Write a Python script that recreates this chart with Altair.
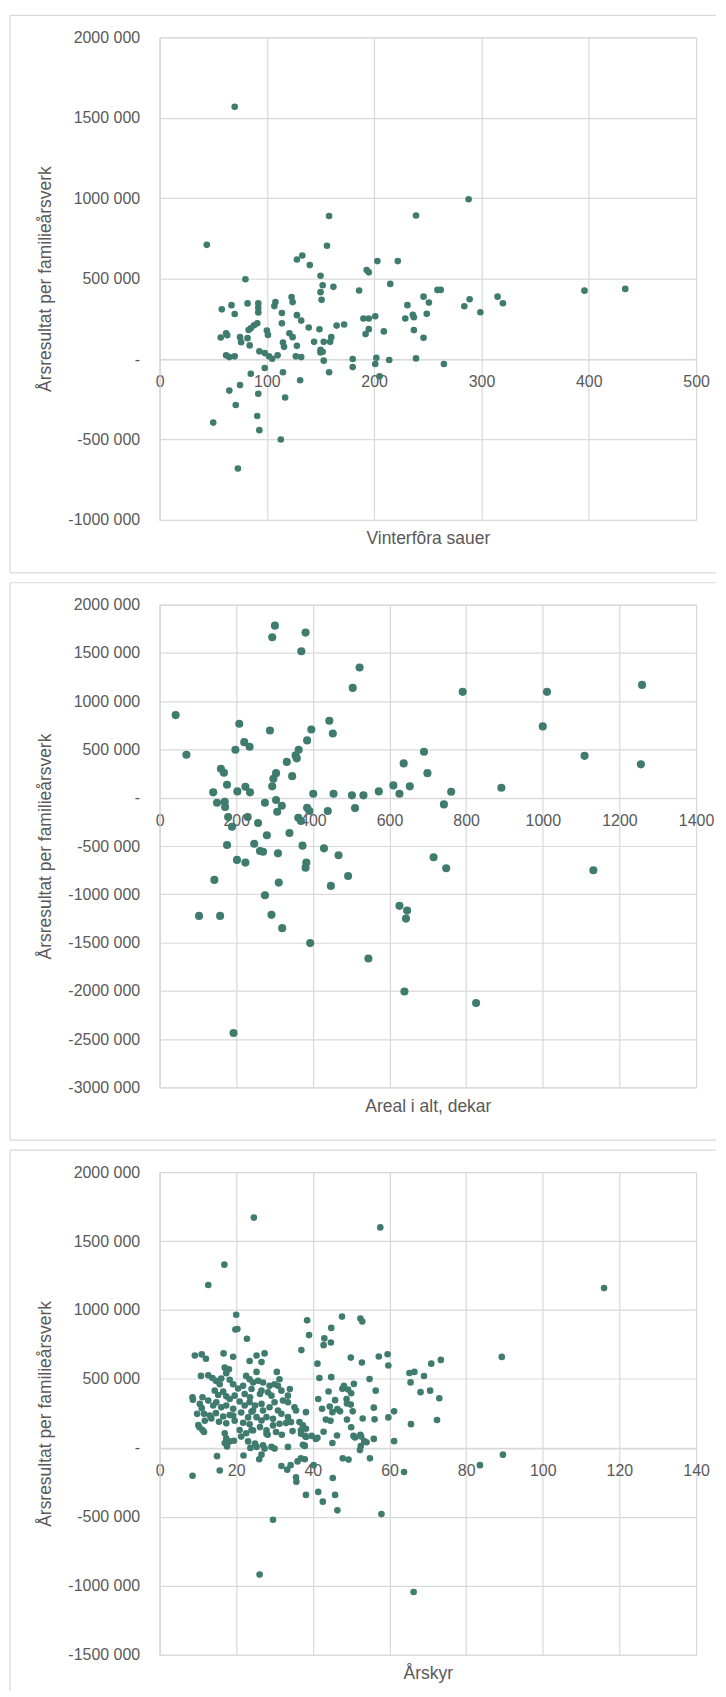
import altair as alt
import pandas as pd

# ---------------- Panel 1: Vinterfôra sauer (x) vs Årsresultat (y, 1000 kr) ----------------
sau_x = [70, 44, 158, 156, 128, 133, 140, 150, 152, 162,
         150, 151, 80, 123, 124, 108, 107, 92, 92, 92,
         82, 67, 58, 70, 114, 128, 132, 114, 165, 91,
         88, 85, 83, 139, 149, 100, 101, 62, 63, 57,
         75, 76, 82, 84, 121, 124, 144, 153, 159, 160,
         115, 116, 128, 150, 152, 150, 153, 62, 65, 70,
         93, 98, 102, 105, 110, 127, 132, 98, 85, 115,
         158, 75, 65, 131, 92, 117, 71, 91, 50, 93,
         113, 73, 172, 186, 193, 195, 215, 190, 195, 201,
         192, 195, 209, 180, 180, 202, 201, 205, 214, 239,
         265, 229, 236, 237, 231, 237, 246, 246, 251, 249,
         259, 262, 284, 289, 299, 315, 320, 396, 434, 239,
         288, 203, 222]
sau_y = [1568, 710, 889, 704, 619, 644, 584, 518, 459, 449,
         416, 368, 496, 385, 354, 354, 329, 346, 319, 290,
         346, 335, 309, 280, 286, 273, 239, 222, 208, 222,
         210, 191, 181, 196, 185, 177, 150, 160, 148, 134,
         136, 105, 130, 85, 160, 136, 107, 107, 107, 136,
         103, 76, 82, 57, 45, 41, -10, 23, 12, 17,
         48, 37, 17, 2, 23, 17, 12, -56, -91, -82,
         -82, -162, -196, -132, -216, -239, -286, -354, -395, -442,
         -500, -680, 215, 426, 553, 539, 467, 252, 252, 266,
         155, 186, 172, 0, -50, 8, -31, -107, -6, 4,
         -31, 252, 275, 260, 335, 180, 132, 388, 351, 281,
         430, 430, 328, 372, 291, 388, 347, 425, 436, 892,
         993, 609, 609]

# ---------------- Panel 2: Areal i alt, dekar ----------------
areal_x = [42, 70, 301, 294, 381, 370, 522, 504, 208, 288,
           396, 443, 452, 221, 235, 198, 385, 363, 355, 358,
           332, 346, 304, 297, 294, 160, 168, 176, 140, 203,
           224, 236, 150, 170, 171, 275, 304, 319, 307, 401,
           454, 502, 532, 572, 610, 626, 653, 637, 690, 699,
           761, 742, 385, 391, 439, 510, 179, 230, 189, 257,
           362, 369, 280, 339, 176, 247, 262, 270, 309, 373,
           429, 467, 202, 224, 383, 381, 715, 748, 143, 311,
           447, 492, 275, 103, 158, 292, 320, 393, 545, 626,
           646, 643, 639, 193, 826, 791, 1011, 1259, 1000, 1109,
           1256, 892, 1132]
areal_y = [856, 445, 1783, 1662, 1711, 1518, 1349, 1138, 766, 697,
           707, 797, 666, 576, 528, 497, 594, 497, 439, 408,
           372, 224, 255, 197, 118, 300, 259, 134, 56, 66,
           114, 56, -52, -41, -96, -52, -24, -83, -145, 41,
           41, 25, 25, 66, 128, 41, 118, 356, 476, 255,
           62, -69, -103, -138, -138, -107, -200, -200, -300, -262,
           -207, -241, -389, -365, -489, -476, -551, -559, -576, -496,
           -524, -596, -644, -672, -672, -724, -617, -730, -851, -879,
           -913, -810, -1010, -1224, -1224, -1213, -1351, -1506, -1666, -1120,
           -1169, -1252, -2007, -2437, -2127, 1097, 1097, 1169, 739, 434,
           346, 103, -751]

# ---------------- Panel 3: Årskyr ----------------
kyr_sparse_x = [24.6, 57.6, 16.9, 12.7, 116, 20, 19.8, 20.3, 22.8, 38.5,
                39, 37, 47.6, 52.4, 52.9, 44.8, 43, 42.8, 44.7, 41.2,
                41.7, 44.8, 49.9, 52.8, 57.2, 59.5, 59.7, 54.8, 56.4, 65.2,
                66.5, 65.5, 69, 70.9, 73.4, 68.1, 70.6, 73, 72.4, 65.6,
                61.2, 61.2, 59.7, 55.9, 56.1, 55.9, 54.9, 89.3, 89.6, 83.6,
                63.8, 66.3, 57.9, 26.1, 29.6, 46.4, 42.6, 41.4, 45.8, 38.2,
                45.2, 47.8, 49.3, 8.6, 15.7, 15, 21.9, 26, 26.6, 31.8,
                33.3, 34.2, 36, 35.6, 35.7, 40.2, 37.9, 36.9, 37.4, 38]
kyr_sparse_y = [1670, 1599, 1329, 1181, 1159, 966, 859, 862, 791, 925,
                818, 709, 952, 938, 917, 870, 794, 745, 764, 611,
                507, 513, 655, 619, 663, 679, 597, 499, 415, 543,
                551, 475, 521, 611, 638, 404, 415, 360, 202, 172,
                265, 49, 221, 292, 207, 65, -76, 660, -49, -125,
                -175, -1045, -480, -919, -521, -453, -390, -319, -341, -341,
                -218, -76, -85, -202, -164, -60, -55, -82, -49, -131,
                -158, -125, -98, -213, -246, -125, -82, -76, 22, 87]

kyr_mid_x = [41.4, 42.4, 44.1, 45.8, 44.4, 45.1, 43.4, 44.6, 47.7, 48.1,
             49.2, 50.7, 50, 48.8, 48.9, 47.1, 46.4, 49.9, 50.4, 48.9,
             50, 50.6, 51, 52.6, 52.4, 53.4, 52.5, 52.3, 54, 53,
             45.1, 46.3, 42.8, 41.2, 40.8, 39.7, 37.9]
kyr_mid_y = [355, 284, 409, 346, 300, 259, 205, 196, 428, 450,
             423, 464, 396, 355, 322, 265, 281, 314, 265, 205,
             150, 87, 76, 82, 95, 49, 14, -16, 41, 213,
             35, 90, 117, 74, 65, 87, 14]

kyr_left_x = [9.2, 11, 12.1, 16.7, 19.2, 23.5, 17, 18.1, 17.4, 10.8,
              12.7, 13.8, 14.7, 16.1, 15.7, 18.3, 19.2, 20.5, 21.8, 22.6,
              23.5, 22.2, 8.6, 8.7, 11.2, 14.4, 15.3, 16.6, 17.4, 18.3,
              19.6, 10.5, 11, 12.7, 14, 14.8, 16.1, 17.4, 19.2, 20.9,
              22.2, 23.5, 9.8, 11.6, 13.1, 14.7, 16.6, 18.3, 19.2, 21.3,
              23.1, 24, 11.8, 13.5, 15.5, 17.4, 19.6, 21.8, 10.1, 11.2,
              11.6, 10.4, 17, 17.4, 18.3, 20.9, 21.3, 22.6, 23.1, 23.7,
              17, 19.4, 23.5, 24, 17.6]
kyr_left_y = [670, 678, 646, 685, 661, 630, 582, 570, 542, 522,
              526, 507, 486, 503, 462, 494, 462, 431, 450, 522,
              498, 391, 367, 350, 367, 415, 384, 408, 374, 355,
              379, 319, 288, 343, 307, 331, 295, 307, 283, 336,
              307, 331, 247, 247, 235, 252, 228, 238, 235, 257,
              221, 262, 197, 214, 190, 178, 197, 182, 166, 130,
              115, 150, 106, 70, 47, 130, 82, 106, 47, 0,
              35, 52, 171, 130, 10]

kyr_right_x = [25.3, 27.4, 26.6, 25.3, 30.6, 24.4, 25.7, 27, 28.7, 30,
               31.3, 30.9, 31.8, 34, 33.5, 26.6, 26.2, 28.3, 29.2, 24,
               23.6, 32.2, 33.5, 24.9, 26.6, 24.4, 27, 28.7, 30, 30.9,
               35.2, 35.6, 38.2, 31.8, 33.5, 25.3, 26.6, 27.9, 29.6, 29.6,
               31.3, 33, 34.3, 36.5, 37.4, 36.9, 38.2, 24.4, 26.2, 27.9,
               27.9, 30.4, 34.7, 36.9, 38.2, 24.9, 25.3, 27, 27.4, 29.2,
               33.5, 37.8, 31.9, 28.2, 30]
kyr_right_y = [670, 685, 622, 551, 551, 474, 486, 474, 450, 462,
               498, 450, 415, 427, 379, 415, 391, 403, 379, 427,
               367, 343, 331, 307, 319, 271, 271, 295, 331, 271,
               295, 271, 259, 247, 223, 223, 199, 223, 211, 163,
               175, 180, 187, 187, 163, 127, 139, 127, 151, 127,
               103, 115, 122, 103, 79, 31, 7, 19, -5, 7,
               7, 19, 95, 95, -5]

kyr_x = kyr_sparse_x + kyr_mid_x + kyr_left_x + kyr_right_x
kyr_y = kyr_sparse_y + kyr_mid_y + kyr_left_y + kyr_right_y

# ---------------- styling ----------------
COLOR = "#3f7b6f"
GRID = "#d9d9d9"
TEXT = "#595959"
FONT = "Liberation Sans"
W, H = 538, 484
Y_TITLE = "Årsresultat per familieårsverk"
NB = "\u00a0"
Y_LABELS = (f"datum.value == 0 ? '-{NB}{NB}' : "
            "(datum.value < 0 ? '-' : '') + format(abs(datum.value), 'd') + ' 000'")


def frame(last=False):
    base = alt.Chart(pd.DataFrame({"k": [0]}))
    style = dict(color=GRID, strokeWidth=1.2)
    bottom = H + 36 if last else H + 53
    layers = [
        base.mark_rule(**style).encode(x=alt.value(-150), y=alt.value(-22), y2=alt.value(bottom)),
        base.mark_rule(**style).encode(x=alt.value(-150), x2=alt.value(W + 20), y=alt.value(-22)),
    ]
    if not last:
        layers.append(base.mark_rule(**style).encode(x=alt.value(-150), x2=alt.value(W + 20),
                                                     y=alt.value(bottom)))
    return layers


def panel(xs, ys, xmax, xstep, ymin, ymax, xtitle, size, last=False):
    df = pd.DataFrame({"x": xs, "y": ys})
    zero_px = H * ymax / (ymax - ymin)
    off = -(H - zero_px)
    pts = alt.Chart(df).mark_circle(size=size, color=COLOR, opacity=1).encode(
        x=alt.X("x:Q",
                scale=alt.Scale(domain=[0, xmax], nice=False, zero=False),
                axis=alt.Axis(values=list(range(0, xmax + 1, xstep)), format="d",
                              title=xtitle, offset=off, titleY=-off + 19,
                              titleBaseline="middle", titleX=W / 2, titleAlign="center")),
        y=alt.Y("y:Q",
                scale=alt.Scale(domain=[ymin, ymax], nice=False, zero=False),
                axis=alt.Axis(values=list(range(ymin, ymax + 1, 500)), labelExpr=Y_LABELS,
                              title=Y_TITLE, titleX=-114, titleY=H / 2, titleAngle=270,
                              titleAlign="center", titleBaseline="middle")),
    )
    return alt.layer(*frame(last), pts).properties(width=W, height=H)


p1 = panel(sau_x, sau_y, 500, 100, -1000, 2000, "Vinterfôra sauer", 44)
p2 = panel(areal_x, areal_y, 1400, 200, -3000, 2000, "Areal i alt, dekar", 66)
p3 = panel(kyr_x, kyr_y, 140, 20, -1500, 2000, "Årskyr", 44, last=True)

chart = (
    alt.vconcat(p1, p2, p3, spacing=6)
    .properties(padding={"left": 0, "top": 3, "right": 0, "bottom": 0}, background="white")
    .configure_view(stroke=GRID, strokeWidth=1)
    .configure_axis(labelFont=FONT, labelFontSize=16, labelColor=TEXT,
                    titleFont=FONT, titleFontSize=17.5, titleFontWeight="normal", titleColor=TEXT,
                    grid=True, gridColor=GRID, gridWidth=1.2, domainColor=GRID, domainWidth=1.2,
                    ticks=False, tickSize=0, labelOverlap=False, labelFlush=False, labelBound=False)
    .configure_axisX(labelPadding=15)
    .configure_axisY(labelPadding=20)
)

chart.save("out.html", embed_options={"renderer": "svg", "actions": False})
